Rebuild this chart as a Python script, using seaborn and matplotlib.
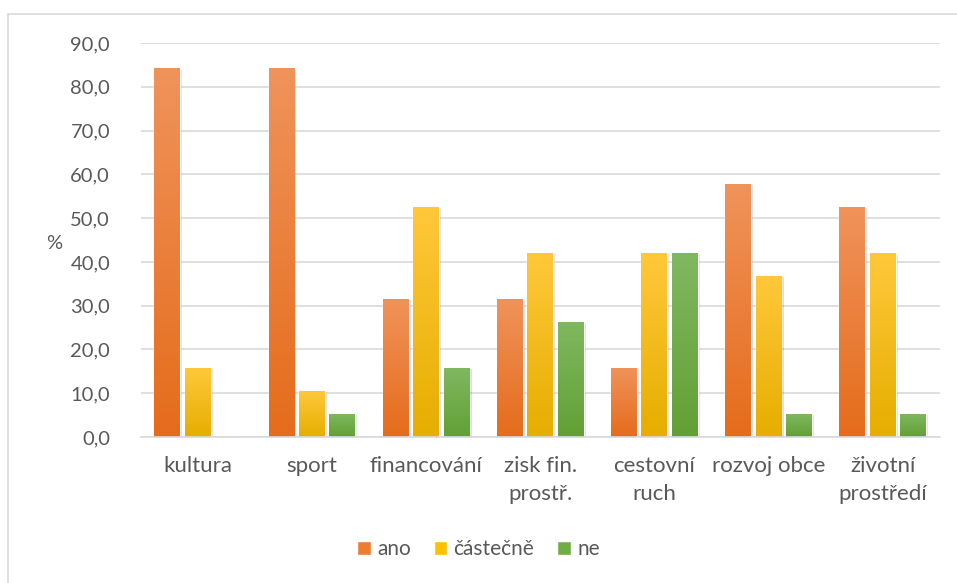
import numpy as np
import pandas as pd
import matplotlib
matplotlib.use('Agg')
import matplotlib.pyplot as plt
import matplotlib.patheffects as pe
from matplotlib.colors import LinearSegmentedColormap
from matplotlib.patches import Patch, Rectangle
from matplotlib.ticker import FuncFormatter
import seaborn as sns

# data (%)
categories = ['kultura', 'sport', 'financování', 'zisk fin.\nprostř.',
              'cestovní\nruch', 'rozvoj obce', 'životní\nprostředí']
ano = [84.2, 84.2, 31.6, 31.6, 15.8, 57.9, 52.6]
castecne = [15.8, 10.5, 52.6, 42.1, 42.1, 36.8, 42.1]
ne = [0.0, 5.3, 15.8, 26.3, 42.1, 5.3, 5.3]
series = ['ano', 'částečně', 'ne']

df = pd.DataFrame({'kategorie': categories * 3,
                   'odpoved': np.repeat(series, len(categories)),
                   'procenta': ano + castecne + ne})

# office-like gradients (top, bottom)
grads = {'ano': ('#F0935A', '#E56C1C'),
         'částečně': ('#FFC83A', '#E6AE00'),
         'ne': ('#80B860', '#62A035')}
solid = {'ano': '#ED7D31', 'částečně': '#FFC000', 'ne': '#70AD47'}

sns.set_style('white')
plt.rcParams['font.family'] = ['Lato', 'DejaVu Sans']

fig = plt.figure(figsize=(9.57, 5.83), dpi=100)
ax = fig.add_axes([0.147, 0.2504, 0.835, 0.6758])

sns.barplot(data=df, x='kategorie', y='procenta', hue='odpoved',
            palette=solid, width=0.8, gap=0.15, ax=ax, legend=False,
            errorbar=None, zorder=2)

# gradient fill + soft shadow for each bar
for cont, name in zip(ax.containers, series):
    cmap = LinearSegmentedColormap.from_list(name, [grads[name][1], grads[name][0]])
    for bar in cont:
        h = bar.get_height()
        if h <= 0:
            continue
        x0, w = bar.get_x(), bar.get_width()
        bar.set_path_effects([pe.SimplePatchShadow(offset=(1.5, -1), shadow_rgbFace='#000000', alpha=0.12),
                              pe.Normal()])
        img = ax.imshow(np.linspace(0, 1, 64).reshape(-1, 1), origin='lower', cmap=cmap,
                        extent=[x0, x0 + w, 0, h], aspect='auto', zorder=3)
        img.set_clip_path(bar)

ax.set_xlim(-0.5, len(categories) - 0.5)
ax.set_ylim(0, 90)
ax.set_yticks(np.arange(0, 91, 10))
ax.yaxis.set_major_formatter(FuncFormatter(lambda v, p: f'{v:.1f}'.replace('.', ',')))
ax.set_axisbelow(True)
ax.grid(axis='y', color='#D9D9D9', linewidth=1.2)
ax.grid(axis='x', visible=False)
for s in ['top', 'right', 'left']:
    ax.spines[s].set_visible(False)
ax.spines['bottom'].set_color('#D9D9D9')
ax.spines['bottom'].set_linewidth(1.2)
ax.spines['bottom'].set_zorder(4)
ax.tick_params(axis='both', length=0, colors='#595959')
ax.tick_params(axis='x', pad=14, labelsize=16)
ax.tick_params(axis='y', pad=22, labelsize=14.5)
for lbl in ax.get_xticklabels():
    lbl.set_linespacing(1.5)
ax.set_xlabel('')
ax.set_ylabel('%', fontsize=14.5, color='#595959', rotation=0, labelpad=8)
ax.yaxis.set_label_coords(-0.108, 0.47)

handles = [Patch(facecolor=solid[s], label=s) for s in series]
fig.legend(handles=handles, loc='center', bbox_to_anchor=(0.5, 0.058), ncol=3,
           frameon=False, fontsize=15, handlelength=0.65, handleheight=0.65,
           handletextpad=0.3, columnspacing=1.1, labelcolor='#595959')

# outer chart border
fig.patches.append(Rectangle((8 / 957, -0.01), 1.0, 1 - 14 / 583 + 0.01, transform=fig.transFigure,
                             fill=False, edgecolor='#D9D9D9', linewidth=1.2))

fig.savefig('out.png', dpi=100, facecolor='white')
